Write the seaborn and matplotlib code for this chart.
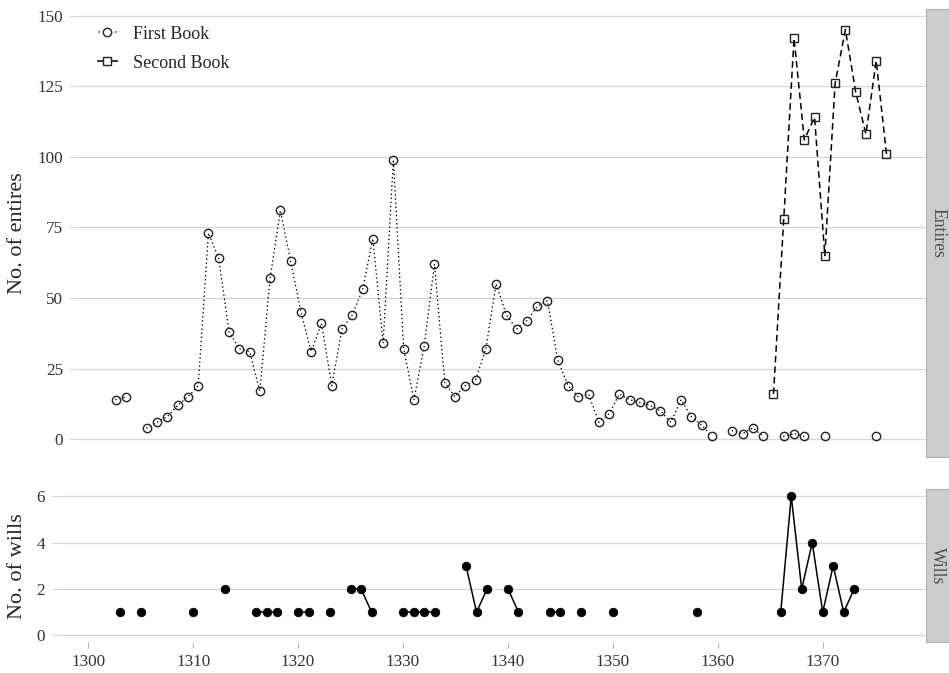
import numpy as np
import pandas as pd
import seaborn as sns
import matplotlib.pyplot as plt
from matplotlib.lines import Line2D

# entries per year in the two books
first_years = [1301, 1302, 1304, 1305, 1306, 1307, 1308, 1309, 1310, 1311, 1312,
               1313, 1314, 1315, 1316, 1317, 1318, 1319, 1320, 1321, 1322, 1323,
               1324, 1325, 1326, 1327, 1328, 1329, 1330, 1331, 1332, 1333, 1334,
               1335, 1336, 1337, 1338, 1339, 1340, 1341, 1342, 1343, 1344, 1345,
               1346, 1347, 1348, 1349, 1350, 1351, 1352, 1353, 1354, 1355, 1356,
               1357, 1358, 1359, 1361, 1362, 1363, 1364, 1366, 1367, 1368, 1370,
               1375]
first_counts = [14, 15, 4, 6, 8, 12, 15, 19, 73, 64, 38,
                32, 31, 17, 57, 81, 63, 45, 31, 41, 19, 39,
                44, 53, 71, 34, 99, 32, 14, 33, 62, 20, 15,
                19, 21, 32, 55, 44, 39, 42, 47, 49, 28, 19,
                15, 16, 6, 9, 16, 14, 13, 12, 10, 6, 14,
                8, 5, 1, 3, 2, 4, 1, 1, 2, 1, 1,
                1]
second_years = [1365, 1366, 1367, 1368, 1369, 1370, 1371, 1372, 1373, 1374, 1375, 1376]
second_counts = [16, 78, 142, 106, 114, 65, 126, 145, 123, 108, 134, 101]

# wills per year
wills_years = [1303, 1305, 1310, 1313, 1316, 1317, 1318, 1320, 1321, 1323, 1325,
               1326, 1327, 1330, 1331, 1332, 1333, 1336, 1337, 1338, 1340, 1341,
               1344, 1345, 1347, 1350, 1358, 1366, 1367, 1368, 1369, 1370, 1371,
               1372, 1373]
wills_counts = [1, 1, 1, 2, 1, 1, 1, 1, 1, 1, 2,
                2, 1, 1, 1, 1, 1, 3, 1, 2, 2, 1,
                1, 1, 1, 1, 1, 1, 6, 2, 4, 1, 3,
                1, 2]

x_ticks = [1300, 1310, 1320, 1330, 1340, 1350, 1360, 1370]
entries_ticks = [0, 25, 50, 75, 100, 125, 150]
wills_ticks = [0, 2, 4, 6]


def make_df(years, counts, label):
    d = pd.DataFrame({'year': years, 'count': counts})
    d['book'] = label
    # missing years break the line
    d['run'] = (d['year'].diff() != 1).cumsum()
    return d


def expand(lo, hi, mult=0.05):
    pad = (hi - lo) * mult
    return lo - pad, hi + pad


first = make_df(first_years, first_counts, 'First Book')
second = make_df(second_years, second_counts, 'Second Book')
wills = make_df(wills_years, wills_counts, 'Wills')

sns.set_theme(style='white')
plt.rcParams['font.family'] = ['Liberation Serif', 'DejaVu Serif']

W, H = 949, 673
fig = plt.figure(figsize=(W / 100, H / 100), dpi=100)


def px_rect(l, t, r, b):
    return [l / W, 1 - b / H, (r - l) / W, (b - t) / H]


ax1 = fig.add_axes(px_rect(77.5, 9.3, 925, 456.7))
ax2 = fig.add_axes(px_rect(59.5, 489.3, 925, 642.3))

all_years = first_years + second_years
xlim = expand(min(all_years), max(all_years))
all_counts = first_counts + second_counts

grid_col = '#d6d6d6'
tick_col = '#333333'

sns.lineplot(data=first, x='year', y='count', units='run', estimator=None,
             ax=ax1, color='black', lw=1.1, linestyle=(0, (0.1, 2.6)),
             dash_capstyle='round', marker='o', ms=6, mfc='none',
             mec='#222222', mew=1.0, legend=False, zorder=3)
sns.lineplot(data=second, x='year', y='count', units='run', estimator=None,
             ax=ax1, color='black', lw=1.1, linestyle=(0, (4.3, 2.6)),
             marker='s', ms=6, mfc='none', mec='#222222', mew=1.0,
             legend=False, zorder=3)
sns.lineplot(data=wills, x='year', y='count', units='run', estimator=None,
             ax=ax2, color='black', lw=1.1, marker='o', ms=6.2, mfc='black',
             mec='black', mew=0.5, legend=False, zorder=3)

ax1.set_xlim(xlim)
ax2.set_xlim(xlim)
ax1.set_ylim(expand(min(all_counts), max(all_counts)))
ax2.set_ylim(expand(0, max(wills_counts)))

ax1.set_yticks(entries_ticks)
ax1.set_xticks([])
ax2.set_yticks(wills_ticks)
ax2.set_xticks(x_ticks)

for ax in (ax1, ax2):
    for s in ax.spines.values():
        s.set_visible(False)
    ax.grid(False)
    for v in ax.get_yticks():
        ax.axhline(v, color=grid_col, lw=0.9, zorder=0)
    ax.tick_params(axis='y', length=6.8, width=0.7, color=grid_col, pad=3.6,
                   labelsize=12.3, labelcolor=tick_col, left=True)
    ax.set_xlabel('')
    ax.set_ylabel('')
ax2.tick_params(axis='x', length=4.3, width=0.7, color='#b5b5b5', pad=4.3,
                labelsize=12.3, labelcolor=tick_col, bottom=True)

fig.text(18 / W, 1 - 233 / H, 'No. of entires', rotation=90, fontsize=16,
         ha='center', va='center')
fig.text(18 / W, 1 - 565.8 / H, 'No. of wills', rotation=90, fontsize=16,
         ha='center', va='center')

# facet strips on the right
for (t, b), name in [((9.3, 456.7), 'Entires'), ((489.3, 642.3), 'Wills')]:
    sax = fig.add_axes(px_rect(925.5, t, 950, b))
    sax.set_facecolor('#cccccc')
    sax.set_xticks([])
    sax.set_yticks([])
    for s in sax.spines.values():
        s.set_color('#b0b0b0')
        s.set_linewidth(0.8)
    sax.text(0.5, 0.5, name, rotation=270, ha='center', va='center',
             fontsize=12.7, color='#4d4d4d', transform=sax.transAxes)

handles = [
    Line2D([], [], color='black', lw=1.1, linestyle=(9.55, (0.1, 10.8)),
           dash_capstyle='round', marker='o', ms=6, mfc='none', mec='#222222',
           mew=1.0),
    Line2D([], [], color='black', lw=1.1, linestyle=(0, (4, 5.7)),
           marker='s', ms=6, mfc='none', mec='#222222', mew=1.0),
]
ax1.legend(handles, ['First Book', 'Second Book'], loc='upper left',
           bbox_to_anchor=(97 / W, 1 - 25.6 / H), bbox_transform=fig.transFigure,
           frameon=False, fontsize=13, borderpad=0, borderaxespad=0,
           handlelength=1.16, handletextpad=0.83, labelspacing=0.67)

fig.savefig('out.png', dpi=100)
